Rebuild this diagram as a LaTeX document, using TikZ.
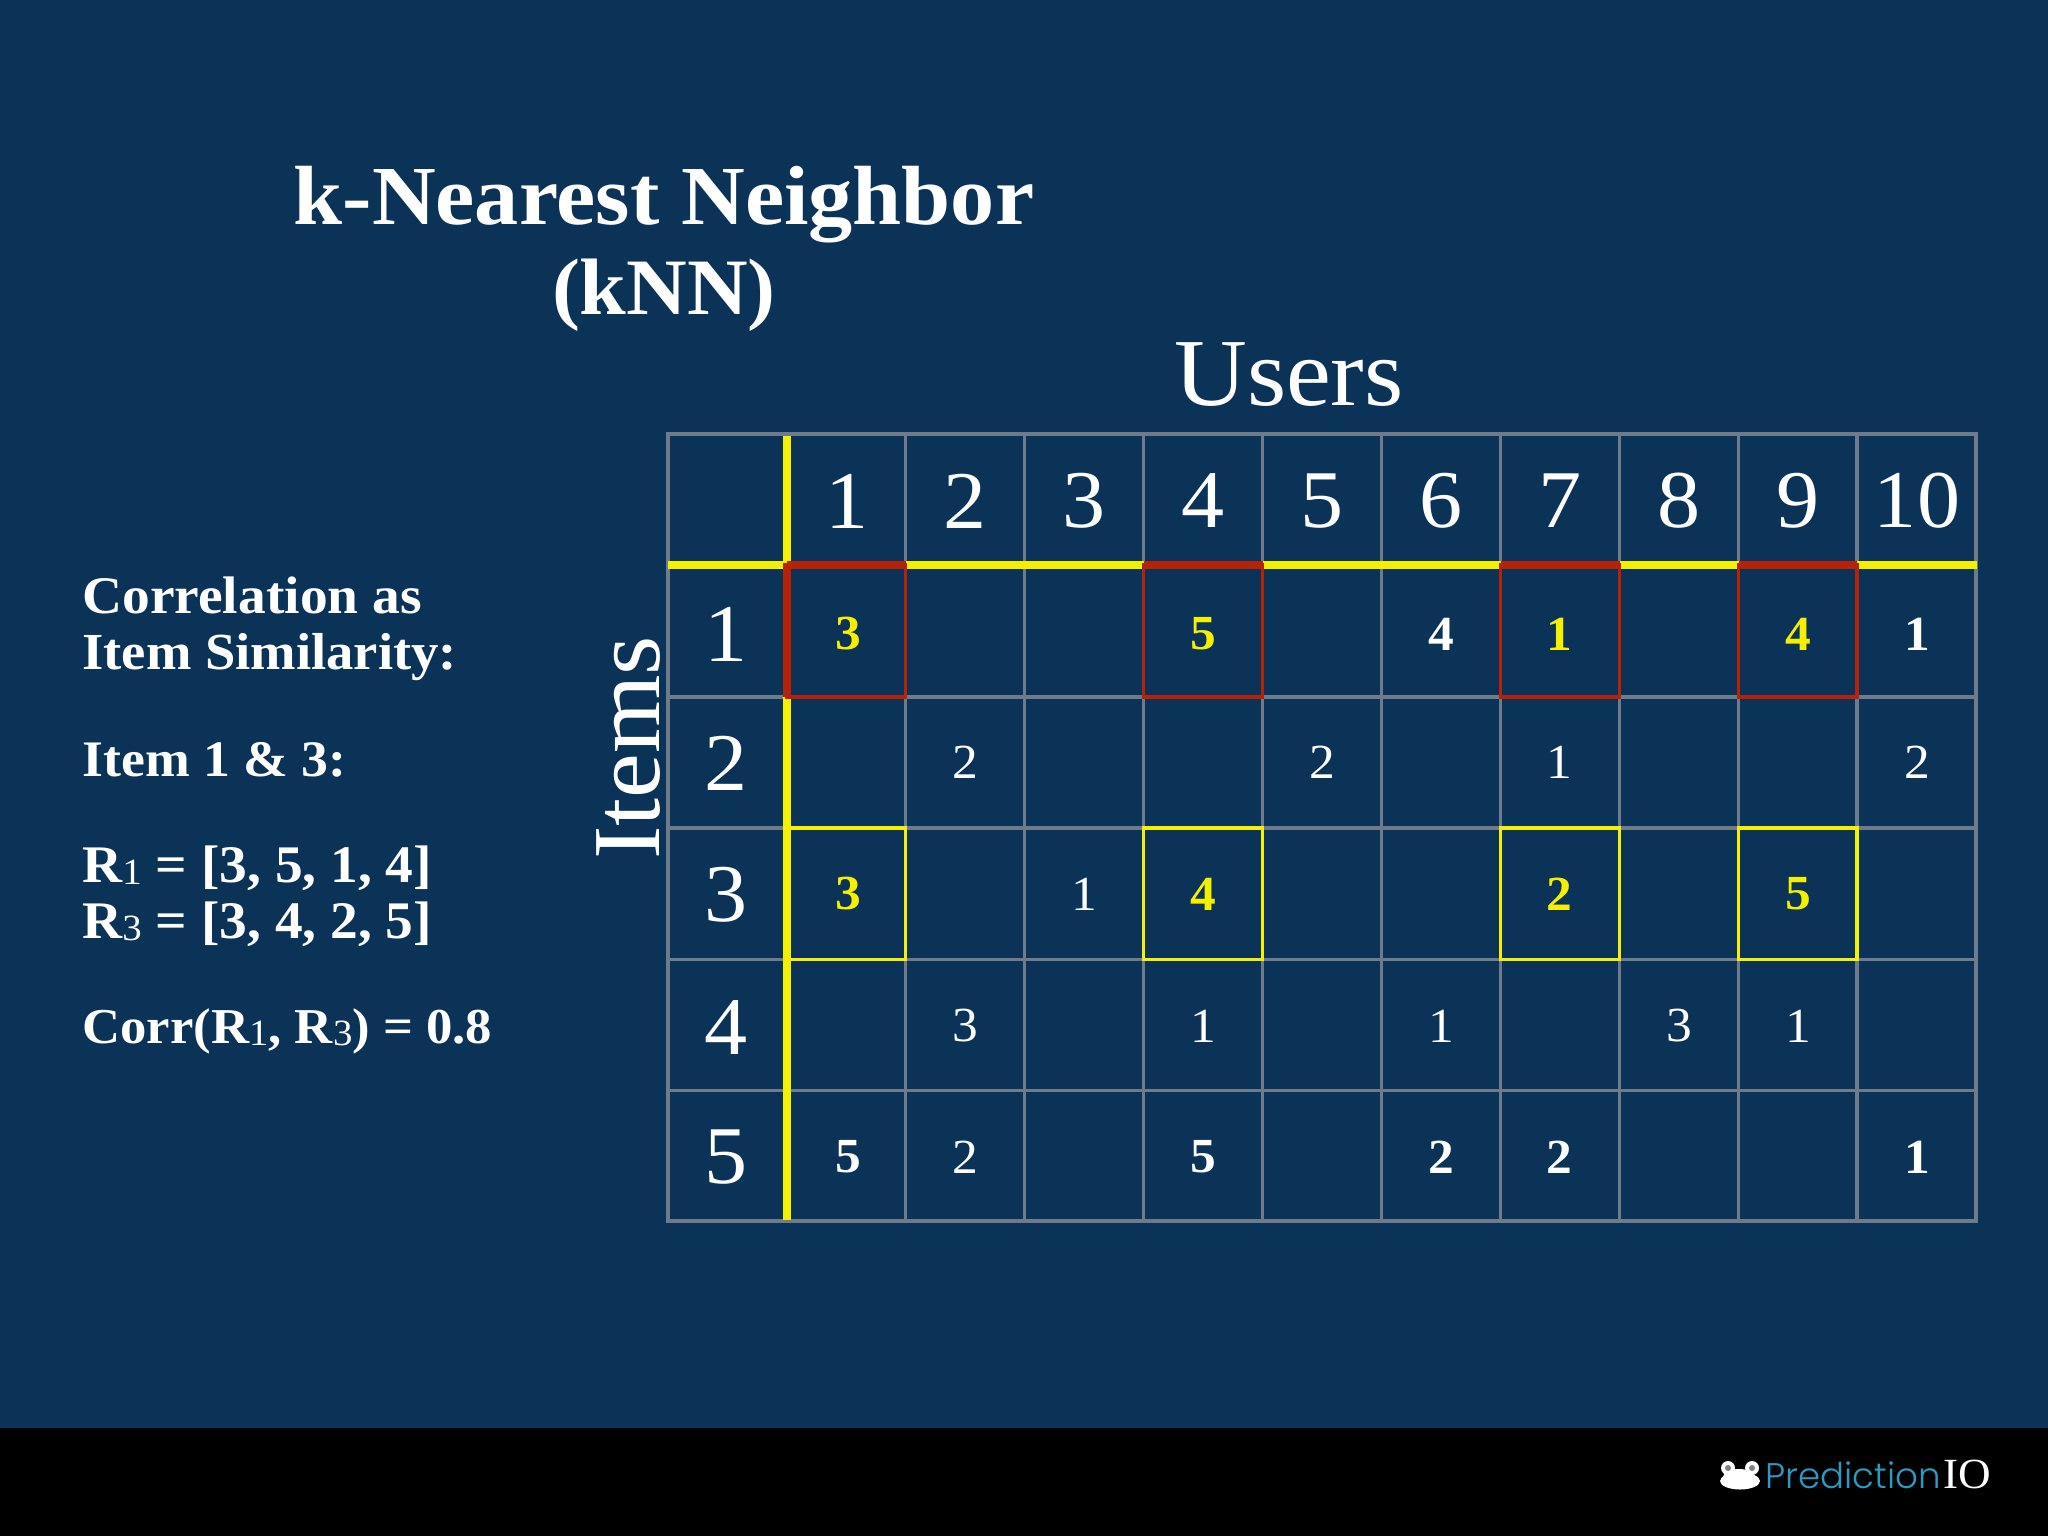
\documentclass[tikz,border=0pt]{standalone}
\usepackage{fontspec}
\setmainfont[FakeStretch=1.05]{Liberation Serif}
\newfontfamily\logofont{Poppins Light}
\definecolor{slidebg}{HTML}{0B3358}
\definecolor{gridgray}{HTML}{6E7B8A}
\definecolor{markyellow}{HTML}{F5F000}
\definecolor{markred}{HTML}{B52208}
\definecolor{logoblue}{HTML}{2A9BC4}
\newcommand{\subd}[1]{\raisebox{-1.2pt}{\fontsize{18.5}{18.5}\normalfont #1}}
\tikzset{
    lbl/.style={inner sep=0pt,text=white},
    sidetxt/.style={lbl,anchor=base west,font=\fontsize{#1}{28}\bfseries\selectfont},
    headnum/.style={lbl,font=\fontsize{41}{41}\selectfont},
    val/.style={lbl,font=\fontsize{24.5}{24.5}\selectfont},
    valbold/.style={val,font=\fontsize{24.5}{24.5}\bfseries\selectfont},
    valmark/.style={valbold,text=markyellow},
}
\begin{document}
\begin{tikzpicture}[x=0.5pt,y=-0.5pt]
    \useasboundingbox (0,0) rectangle (2048,1536);
    \fill[slidebg] (0,0) rectangle (2048,1536);
    \fill[black] (0,1428) rectangle (2048,1536);
    % title
    \node[lbl,anchor=base,font=\fontsize{42}{42}\bfseries\selectfont] (title1) at (664,224) {k-Nearest Neighbor};
    \node[lbl,anchor=base,font=\fontsize{40}{40}\bfseries\selectfont] (title2) at (664,314) {(kNN)};
    \node[lbl,anchor=base,font=\fontsize{48}{48}\selectfont] (users) at (1289,405) {Users};
    \node[lbl,anchor=base,rotate=90,font=\fontsize{48}{48}\selectfont] (items) at (659,748) {Items};
    % left column
    \node[sidetxt=26.4] (corr1) at (82,613) {Correlation as};
    \node[sidetxt=26] (corr2) at (82,669) {Item Similarity:};
    \node[sidetxt=25.6] (pair) at (82,776) {Item 1 \& 3:};
    \node[sidetxt=26.4] (rone) at (82,882) {R\subd{1} = [3, 5, 1, 4]};
    \node[sidetxt=26.4] (rthree) at (82,938) {R\subd{3} = [3, 4, 2, 5]};
    \node[sidetxt=25.1] (result) at (82,1043) {Corr(R\subd{1}, R\subd{3}) = 0.8};
    % grid
    \foreach \gx in {905.5,1024.5,1143.5,1262.5,1381.5,1500.5,1619.5,1738.5,1857}
        \draw[gridgray,line width=1.9pt] (\gx,434)--(\gx,1221);
    \foreach \gy in {697,828,959.5,1090.5}
        \draw[gridgray,line width=1.9pt] (668,\gy)--(1976,\gy);
    \draw[gridgray,line width=1.9pt] (668,434) rectangle (1976,1221);
    \draw[markyellow,line width=3.8pt] (787,436)--(787,1220);
    \draw[markyellow,line width=3.8pt] (668,565)--(1977,565);
    % marked cells
    \foreach \gx/\gw in {787/905.5,1143.5/1262.5,1500.5/1619.5,1738.5/1857}{
        \draw[markred,line width=1.8pt] (\gx,565)--(\gw,565)--(\gw,697)--(\gx,697)--cycle;
        \draw[markred,line width=3.8pt] (\gx,565)--(\gw,565);
        \draw[markyellow,line width=1.9pt] (\gx,828)rectangle(\gw,959.5);
    }
    \draw[markred,line width=3.8pt] (787,563)--(787,697);
    % headers
    \foreach \n/\gx in {1/847,2/965,3/1084,4/1203,5/1322,6/1441,7/1560,8/1679,9/1798,10/1917}
        \node[headnum] (colhead\n) at (\gx,501) {\n};
    \foreach \n/\gy in {1/634,2/763,3/895,4/1027,5/1157}
        \node[headnum] (rowhead\n) at (726,\gy) {\n};
    % ratings
    \foreach \gx/\gy/\v in {848/634/3,1203/634/5,1559/634/1,1798/634/4,848/894/3,1203/894/4,1559/894/2,1798/894/5}
        \node[valmark] at (\gx,\gy) {\v};
    \foreach \gx/\gy/\v in {1441/634/4,1917/634/1,848/1157/5,1203/1157/5,1441/1157/2,1559/1157/2,1917/1157/1}
        \node[valbold] at (\gx,\gy) {\v};
    \foreach \gx/\gy/\v in {965/762/2,1322/762/2,1559/762/1,1917/762/2,1084/894/1,965/1026/3,1203/1026/1,1441/1026/1,1679/1026/3,1798/1026/1,965/1157/2}
        \node[val] at (\gx,\gy) {\v};
    % logo
    \fill[white] (1740,1481) ellipse (20 and 8.5);
    \fill[white] (1739,1477) ellipse (16 and 8);
    \fill[white] (1728,1468) circle (7);
    \fill[white] (1752,1468) circle (7);
    \fill[gray] (1728,1468) circle (3);
    \fill[gray] (1752,1468) circle (3);
    \node[lbl,anchor=base west,text=logoblue,font=\logofont\fontsize{17.8}{17.8}\selectfont] (logoa) at (1765,1488) {Prediction};
    \node[lbl,anchor=base west,font=\fontsize{21.5}{21.5}\selectfont] (logob) at (1943,1488) {IO};
\end{tikzpicture}
\end{document}
